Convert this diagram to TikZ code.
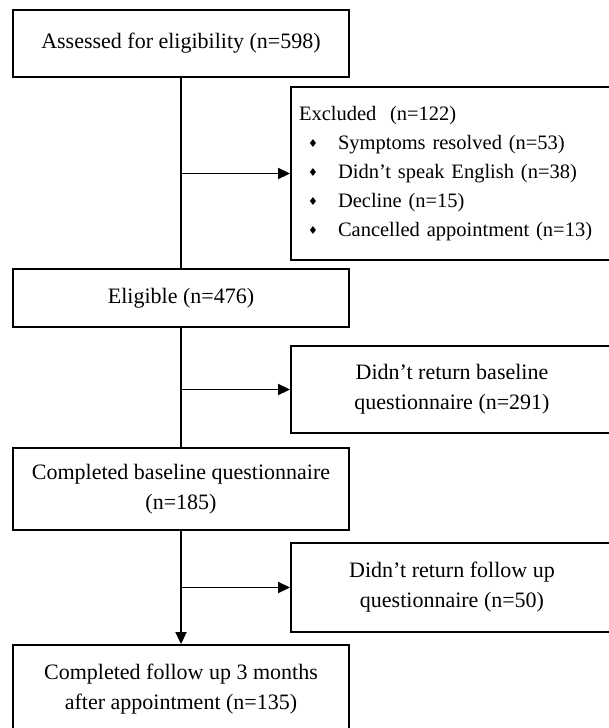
\documentclass[tikz,border=0pt]{standalone}
\usepackage{fontspec}
\setmainfont{Liberation Serif}
\newfontfamily\symfont{DejaVu Sans}
\usetikzlibrary{arrows.meta}
\newcommand{\bul}{\raisebox{1.5pt}{\symfont\fontsize{11}{11}\selectfont ♦}}
\newcommand{\bitem}[1]{\hspace*{9pt}\makebox[30pt][l]{\bul}#1}
\begin{document}
\begin{tikzpicture}[x=1pt,y=-1pt,
  box/.style={draw, line width=1.9pt, rectangle, inner sep=0pt, align=center,
              font=\fontsize{22}{30}\selectfont},
  link/.style={line width=1.9pt},
  arr/.style={line width=1.9pt, -{Triangle[length=12pt,width=11pt]}}]
\useasboundingbox (0,0) rectangle (608,728);
% main column
\node[box, minimum width=336pt, minimum height=67pt] (a1) at (181,43.5) {Assessed for eligibility (n=598)};
\node[box, minimum width=336pt, minimum height=58pt] (a2) at (181,298) {Eligible (n=476)};
\node[box, minimum width=336pt, minimum height=82pt] (a3) at (181,489) {Completed baseline questionnaire\\(n=185)};
\node[box, minimum width=336pt, minimum height=88pt] (a4) at (181,689) {Completed follow up 3 months\\after appointment (n=135)};
% side boxes
\node[box, minimum width=322pt, minimum height=173pt, inner xsep=8pt, text width=306pt, align=left,
      font=\fontsize{20.5}{29}\selectfont] (ex1) at (452,173.5)
  {Excluded\ \ (n=122)\\
   \bitem{Symptoms resolved (n=53)}\\
   \bitem{Didn’t speak English (n=38)}\\
   \bitem{Decline (n=15)}\\
   \bitem{Cancelled appointment (n=13)}};
\node[box, minimum width=322pt, minimum height=87pt] (ex2) at (452,389.5) {Didn’t return baseline\\questionnaire (n=291)};
\node[box, minimum width=322pt, minimum height=89pt] (ex3) at (452,587.5) {Didn’t return follow up\\questionnaire (n=50)};
% connectors
\draw[link] (a1.south) -- (a2.north);
\draw[arr] (a1.south |- ex1.west) -- (ex1.west);
\draw[link] (a2.south) -- (a3.north);
\draw[arr] (a2.south |- ex2.west) -- (ex2.west);
\draw[arr] (a3.south) -- (a4.north);
\draw[arr] (a3.south |- ex3.west) -- (ex3.west);
\end{tikzpicture}
\end{document}
